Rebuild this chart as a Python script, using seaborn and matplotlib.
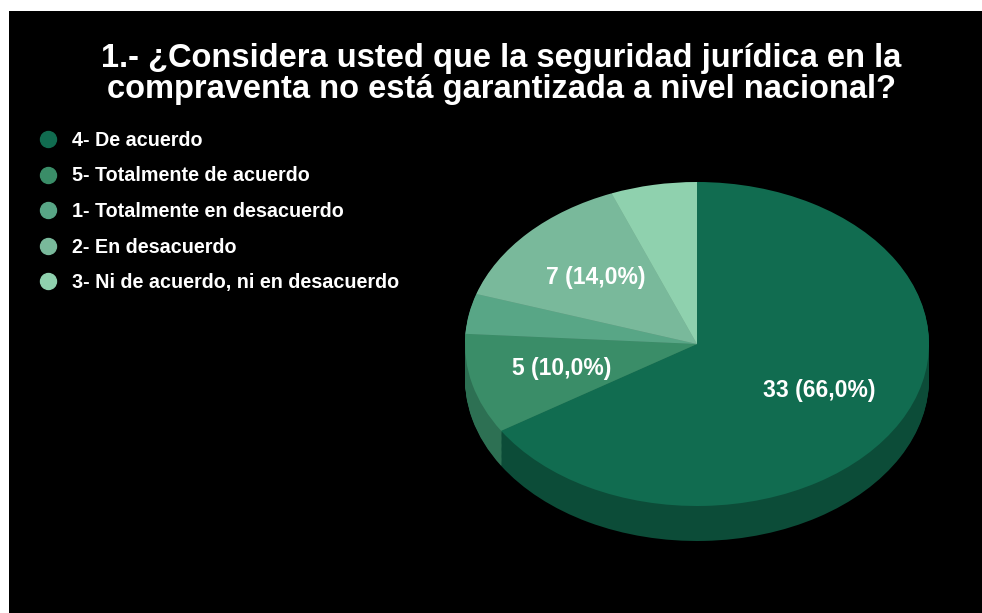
import matplotlib
matplotlib.use("Agg")
import matplotlib.pyplot as plt
from matplotlib.lines import Line2D
import seaborn as sns

# Survey answers, in the order the slices are drawn (clockwise from 12 o'clock)
categories = [
    "4- De acuerdo",
    "5- Totalmente de acuerdo",
    "1- Totalmente en desacuerdo",
    "2- En desacuerdo",
    "3- Ni de acuerdo, ni en desacuerdo",
]
counts = [33, 5, 2, 7, 3]
title = "1.- ¿Considera usted que la seguridad jurídica en la\ncompraventa no está garantizada a nivel nacional?"

top_colors = sns.color_palette(["#116c50", "#3a8d68", "#58a686", "#79b99b", "#8fd1ae"])
side_colors = sns.color_palette(["#0c4c38", "#2d7053", "#457f67", "#5d8f78", "#6fa387"])

sns.set_theme(style="dark")
plt.rcParams["font.family"] = ["Liberation Sans", "DejaVu Sans"]

W, H = 982, 613
fig = plt.figure(figsize=(W / 100, H / 100), dpi=100, facecolor="white")

# black panel (thin white margin on the left and top)
bg = fig.add_axes([9 / W, 0, 1 - 9 / W, 1 - 11 / H])
bg.set_facecolor("black")
bg.set_xticks([])
bg.set_yticks([])
for s in bg.spines.values():
    s.set_visible(False)

# pie axes: x unit = 232 px, y unit = 162 px -> tilted ellipse
cx, cy, rx, ry = 697, 344, 232, 162
xl, yl_lo, yl_hi = 1.1, -1.5, 1.1
ax = fig.add_axes([
    (cx - rx * xl) / W,
    (H - (cy - ry * yl_lo)) / H,
    2 * rx * xl / W,
    ry * (yl_hi - yl_lo) / H,
])
ax.patch.set_alpha(0)

# extruded side: stacked copies of the pie in darker shades
depth = 35 / ry
n_layers = 40
for i in range(n_layers, 0, -1):
    off = depth * i / n_layers
    ax.pie(counts, colors=side_colors, startangle=90, counterclock=False,
           center=(0, -off), radius=1.0,
           wedgeprops=dict(linewidth=0, antialiased=True))

total = sum(counts)


def fmt(pct):
    if pct < 10:
        return ""
    v = int(round(pct * total / 100))
    return f"{v} ({pct:.1f}%)".replace(".", ",")


wedges, texts, autotexts = ax.pie(
    counts, colors=top_colors, startangle=90, counterclock=False,
    center=(0, 0), radius=1.0, autopct=fmt, pctdistance=0.6,
    wedgeprops=dict(linewidth=0),
    textprops=dict(color="white", fontsize=16.5, fontweight="bold"),
)
ax.set_aspect("auto")
ax.set_xlim(-xl, xl)
ax.set_ylim(yl_lo, yl_hi)
ax.axis("off")

fig.text(501 / W, 1 - 74 / H, title, ha="center", va="center",
         multialignment="center", color="white", fontsize=23.5,
         fontweight="bold", linespacing=1.0)

handles = [Line2D([], [], marker="o", linestyle="none", markersize=11.5,
                  markerfacecolor=c, markeredgecolor=c) for c in top_colors]
leg = fig.legend(handles, categories, loc="upper left",
                 bbox_to_anchor=(30 / W, 1 - 123 / H), frameon=False,
                 fontsize=14.2, labelspacing=0.84, handletextpad=0.75,
                 handlelength=1.0, borderaxespad=0)
for t in leg.get_texts():
    t.set_color("white")
    t.set_fontweight("bold")

fig.savefig("out.png", dpi=100, facecolor=fig.get_facecolor())
